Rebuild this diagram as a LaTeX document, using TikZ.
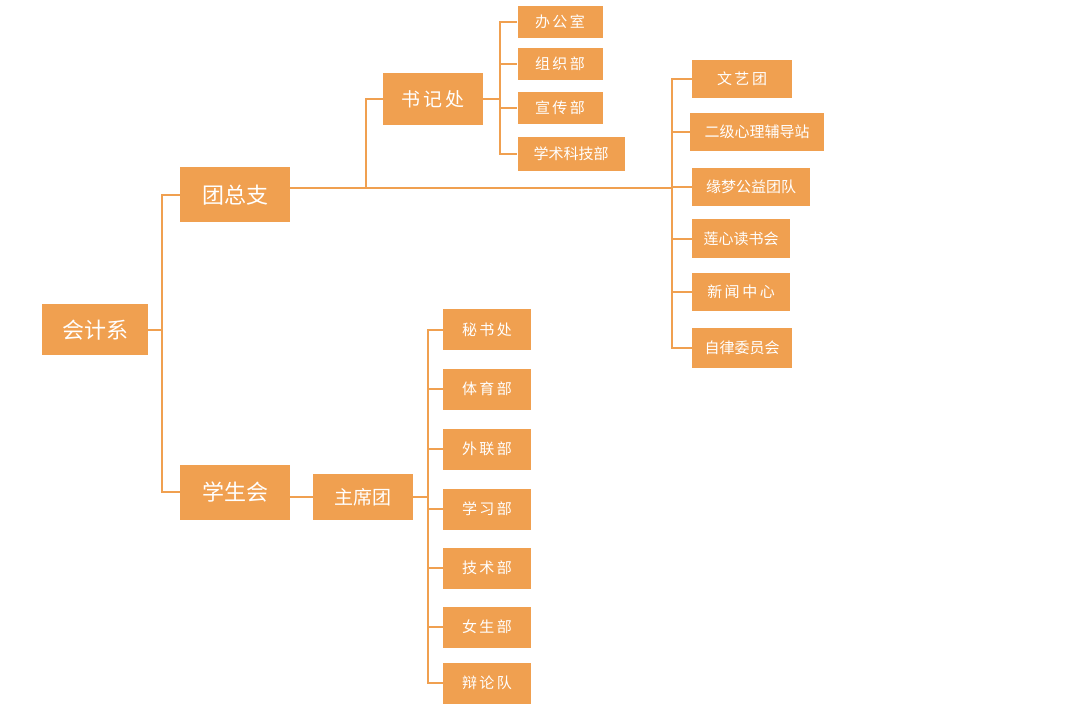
\documentclass[tikz,border=0pt]{standalone}
\usepackage{fontspec}
\setmainfont{Noto Sans CJK SC}
\definecolor{boxorange}{HTML}{F0A050}
\tikzset{
  bigbox/.style={fill=boxorange,text=white,inner sep=0pt,minimum width=110pt,minimum height=55pt,font=\fontsize{22}{24}\selectfont},
  midbox/.style={fill=boxorange,text=white,inner sep=0pt,minimum width=100pt,minimum height=50pt,font=\fontsize{19}{21}\selectfont},
  smallbox/.style={fill=boxorange,text=white,inner sep=0pt,minimum height=36pt,font=\fontsize{15}{17}\selectfont},
  link/.style={boxorange,line width=1.5pt}
}
\begin{document}
\begin{tikzpicture}[x=1pt,y=-1pt]
            \useasboundingbox (0,0) rectangle (1080,714);
            \node [bigbox,minimum width=106pt,minimum height=51pt] (kjx) at (95, 330) {会计系};
            \node [bigbox] (tzz) at (235, 195) {团总支};
            \node [bigbox] (xsh) at (235, 492) {学生会};
            \node [midbox,minimum height=52pt] (sjc) at (433, 99) {书\,记\,处};
            \node [midbox,minimum height=46pt] (zxt) at (363, 497) {主席团};

            \node [smallbox,minimum width=85pt,minimum height=32pt] (bgs) at (560, 22) {办\,公\,室};
            \node [smallbox,minimum width=85pt,minimum height=32pt] (zzb) at (560, 64) {组\,织\,部};
            \node [smallbox,minimum width=85pt,minimum height=32pt] (xcb) at (560, 108) {宣\,传\,部};
            \node [smallbox,minimum width=107pt,minimum height=34pt] (xskj) at (571, 154) {学术科技部};

            \node [smallbox,minimum width=100pt,minimum height=38pt] (wyt) at (742, 79) {文\,艺\,团};
            \node [smallbox,minimum width=134pt,minimum height=38pt] (xlfd) at (757, 132) {二级心理辅导站};
            \node [smallbox,minimum width=118pt,minimum height=38pt] (ymgy) at (751, 187) {缘梦公益团队};
            \node [smallbox,minimum width=98pt,minimum height=39pt] (lxds) at (741, 239) {莲心读书会};
            \node [smallbox,minimum width=98pt,minimum height=38pt] (xwzx) at (741, 292) {新\,闻\,中\,心};
            \node [smallbox,minimum width=100pt,minimum height=39pt] (zlwy) at (742, 348) {自律委员会};

            \node [smallbox,minimum width=88pt,minimum height=41pt] (msc) at (487, 330) {秘\,书\,处};
            \node [smallbox,minimum width=88pt,minimum height=41pt] (tyb) at (487, 389) {体\,育\,部};
            \node [smallbox,minimum width=88pt,minimum height=41pt] (wlb) at (487, 449) {外\,联\,部};
            \node [smallbox,minimum width=88pt,minimum height=41pt] (xxb) at (487, 509) {学\,习\,部};
            \node [smallbox,minimum width=88pt,minimum height=41pt] (jsb) at (487, 568) {技\,术\,部};
            \node [smallbox,minimum width=88pt,minimum height=41pt] (nsb) at (487, 627) {女\,生\,部};
            \node [smallbox,minimum width=88pt,minimum height=41pt] (bld) at (487, 683) {辩\,论\,队};

            % main branches
            \draw [link] (kjx.east) -- (162, 330);
            \draw [link] (tzz.west) -| (162, 330) |- (xsh.west);
            \draw [link] (tzz.east |- 0, 188) -- (672, 188);
            \draw [link] (366, 188) |- (sjc.west);
            \draw [link] (xsh.east |- 0, 497) -- (zxt.west |- 0, 497);

            % secretariat group
            \draw [link] (sjc.east) -- (500, 99);
            \foreach \n in {bgs, zzb, xcb, xskj}
                \draw [link] (500, 99) |- (\n.west);

            % right group
            \foreach \n in {wyt, xlfd, ymgy, lxds, xwzx, zlwy}
                \draw [link] (672, 188) |- (\n.west);

            % student union group
            \draw [link] (zxt.east) -- (428, 497);
            \foreach \n in {msc, tyb, wlb, xxb, jsb, nsb, bld}
                \draw [link] (428, 497) |- (\n.west);
        \end{tikzpicture}
\end{document}
